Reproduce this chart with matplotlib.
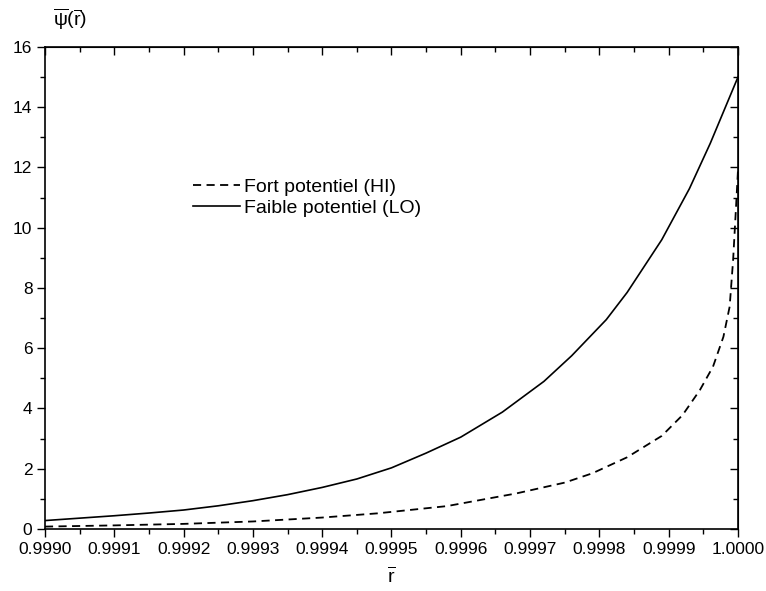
import numpy as np
import matplotlib
matplotlib.use("Agg")
import matplotlib.pyplot as plt
from matplotlib.ticker import MultipleLocator, FormatStrFormatter

plt.rcParams['font.family'] = ['Liberation Sans', 'DejaVu Sans']
plt.rcParams['mathtext.fontset'] = 'custom'
plt.rcParams['mathtext.rm'] = 'Liberation Sans'
plt.rcParams['mathtext.it'] = 'Liberation Sans'

# --- data ---
r_lo = [0.9990, 0.99905, 0.9991, 0.99915, 0.9992, 0.99925, 0.9993, 0.99935, 0.9994,
        0.99945, 0.9995, 0.99955, 0.9996, 0.99966, 0.99972, 0.99976, 0.99981,
        0.99984, 0.99989, 0.99993, 0.99996, 0.99998, 1.0000]
psi_lo = [0.28, 0.36, 0.44, 0.53, 0.63, 0.77, 0.94, 1.14, 1.38,
          1.66, 2.03, 2.52, 3.05, 3.88, 4.90, 5.75, 6.95,
          7.85, 9.60, 11.3, 12.8, 13.9, 15.0]

r_hi = [0.9990, 0.9991, 0.9992, 0.9993, 0.9994, 0.99948, 0.99958, 0.99968, 0.99975,
        0.99979, 0.99984, 0.99989, 0.99992, 0.999945, 0.999964, 0.999979, 0.999988,
        0.999993, 0.999997, 1.0000]
psi_hi = [0.08, 0.12, 0.17, 0.25, 0.38, 0.52, 0.76, 1.18, 1.54,
          1.85, 2.38, 3.09, 3.78, 4.61, 5.39, 6.38, 7.38,
          8.93, 10.6, 11.9]

labels = ["Fort potentiel (HI)", "Faible potentiel (LO)"]

fig = plt.figure(figsize=(7.66, 5.91), dpi=100)
ax = fig.add_axes([0.0587, 0.1049, 0.9047, 0.8156])

ax.plot(r_hi, psi_hi, color='black', lw=1.3, ls=(0, (4.5, 3)), label=labels[0])
ax.plot(r_lo, psi_lo, color='black', lw=1.2, ls='-', label=labels[1])

ax.set_xlim(0.9990, 1.0000)
ax.set_ylim(0, 16)
ax.xaxis.set_major_locator(MultipleLocator(0.0001))
ax.xaxis.set_minor_locator(MultipleLocator(0.00005))
ax.xaxis.set_major_formatter(FormatStrFormatter('%.4f'))
ax.yaxis.set_major_locator(MultipleLocator(2))
ax.yaxis.set_minor_locator(MultipleLocator(1))

ax.tick_params(which='both', direction='out', labelsize=12.5, width=1, color='black', pad=3)
ax.tick_params(which='major', length=6)
ax.tick_params(which='minor', length=3.5)

# inward ticks on top / right
sec_x = ax.secondary_xaxis('top')
sec_x.xaxis.set_major_locator(MultipleLocator(0.0001))
sec_x.xaxis.set_minor_locator(MultipleLocator(0.00005))
sec_x.tick_params(which='both', direction='in', labeltop=False, width=1)
sec_x.tick_params(which='major', length=6)
sec_x.tick_params(which='minor', length=3.5)
sec_y = ax.secondary_yaxis('right')
sec_y.yaxis.set_major_locator(MultipleLocator(2))
sec_y.yaxis.set_minor_locator(MultipleLocator(1))
sec_y.tick_params(which='both', direction='in', labelright=False, width=1)
sec_y.tick_params(which='major', length=6)
sec_y.tick_params(which='minor', length=3.5)

for s in ax.spines.values():
    s.set_linewidth(1.2)

ax.set_xlabel(r'$\overline{\mathrm{r}}$', fontsize=14, labelpad=7)
fig.text(0.091, 0.968, r'$\overline{\mathrm{\psi}}(\overline{\mathrm{r}})$', fontsize=14,
         ha='center', va='center')

ax.legend(loc='upper left', bbox_to_anchor=(0.2136, 0.728), frameon=False,
          borderpad=0, borderaxespad=0, handlelength=2.4, handletextpad=0.2,
          labelspacing=0.2, fontsize=14)

fig.savefig('out.png', dpi=100)
